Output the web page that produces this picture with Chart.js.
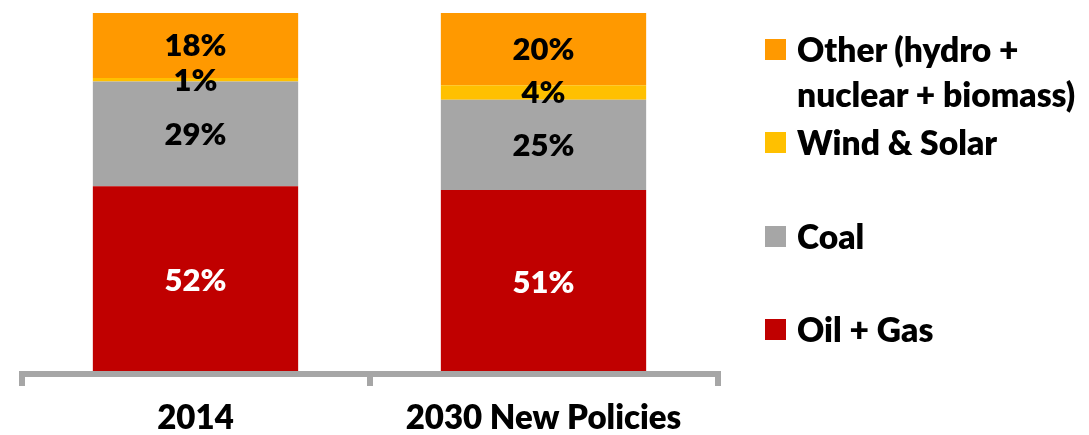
<!DOCTYPE html>
<html><head><meta charset="utf-8">
<script src="https://cdn.jsdelivr.net/npm/chart.js@4.4.1/dist/chart.umd.min.js"></script>
<style>
html,body{margin:0;padding:0;background:#fff;}
#wrap{position:relative;width:1089px;height:435px;overflow:hidden;}
#c{position:absolute;left:0;top:0;}
.item{position:absolute;left:765px;font-family:Lato,sans-serif;font-weight:800;font-size:33.6px;line-height:45px;color:#000;white-space:nowrap}
.sw{position:absolute;left:0;width:21px;height:21px;top:12px}
.tx{position:absolute;left:32px;top:0}
</style></head>
<body><div id="wrap"><canvas id="c" width="1089" height="435"></canvas><div id="legend"></div></div>
<script>
const categories = ['2014', '2030 New Policies'];
const oilGas = [52, 51];
const coal = [29, 25];
const windSolar = [1, 4];
const other = [18, 20];
const seriesNames = ['Oil + Gas', 'Coal', 'Wind & Solar', 'Other (hydro + nuclear + biomass)'];
const legendLines = [['Other (hydro +', 'nuclear + biomass)'], ['Wind & Solar'], ['Coal'], ['Oil + Gas']];
const legendColors = ['#FF9900', '#FFC000', '#A6A6A6', '#C00000'];
const seriesColors = ['#C00000', '#A6A6A6', '#FFC000', '#FF9900'];
const labelColors = ['#FFFFFF', '#000000', '#000000', '#000000'];

const FONT = '800 31px Lato';
const LABEL_OFFSET = 1;

// HTML legend
const legendEl = document.getElementById('legend');
legendLines.forEach((lines, i) => {
  const it = document.createElement('div');
  it.className = 'item';
  it.style.top = (26.5 + i * 93.5) + 'px';
  const sw = document.createElement('div');
  sw.className = 'sw';
  sw.style.background = legendColors[i];
  const tx = document.createElement('div');
  tx.className = 'tx';
  tx.innerHTML = lines.map(l => l.replace(/&/g, '&amp;')).join('<br>');
  it.appendChild(sw); it.appendChild(tx);
  legendEl.appendChild(it);
});

const valueLabels = {
  id: 'valueLabels',
  afterDatasetsDraw(chart) {
    const ctx = chart.ctx;
    ctx.save();
    ctx.font = FONT;
    ctx.textAlign = 'center';
    ctx.textBaseline = 'middle';
    chart.data.datasets.forEach((ds, i) => {
      const meta = chart.getDatasetMeta(i);
      meta.data.forEach((el, j) => {
        const p = el.getProps(['x', 'y', 'base'], true);
        ctx.fillStyle = labelColors[i];
        ctx.fillText(ds.data[j] + '%', p.x, (p.y + p.base) / 2 + LABEL_OFFSET);
      });
    });
    ctx.restore();
  }
};

function draw() {
  const seriesData = [oilGas, coal, windSolar, other];
  new Chart(document.getElementById('c'), {
    type: 'bar',
    data: {
      labels: categories,
      datasets: seriesData.map((d, i) => ({
        label: seriesNames[i],
        data: d,
        backgroundColor: seriesColors[i],
        borderWidth: 0,
        barPercentage: 1,
        categoryPercentage: 0.59
      }))
    },
    options: {
      responsive: false,
      animation: false,
      layout: { padding: { left: 21.5, right: 371.5, top: 13, bottom: 0 } },
      plugins: { legend: { display: false }, tooltip: { enabled: false } },
      scales: {
        x: {
          stacked: true,
          offset: true,
          grid: { display: true, drawOnChartArea: false, drawTicks: true, tickLength: 12, tickWidth: 6, tickColor: '#A6A6A6', color: '#A6A6A6', lineWidth: 6, offset: true },
          border: { display: true, color: '#A6A6A6', width: 6, z: 1 },
          ticks: { color: '#000', font: { family: 'Lato', weight: 800, size: 33 }, padding: 13, maxRotation: 0, autoSkip: false },
          afterFit(s) { s.height = 61; }
        },
        y: { stacked: true, display: false, min: 0, max: 100 }
      }
    },
    plugins: [valueLabels]
  });
}

if (document.fonts && document.fonts.load) {
  Promise.all([document.fonts.load(FONT), document.fonts.load('800 33px Lato')]).then(draw, draw);
} else { draw(); }
</script>
</body></html>
